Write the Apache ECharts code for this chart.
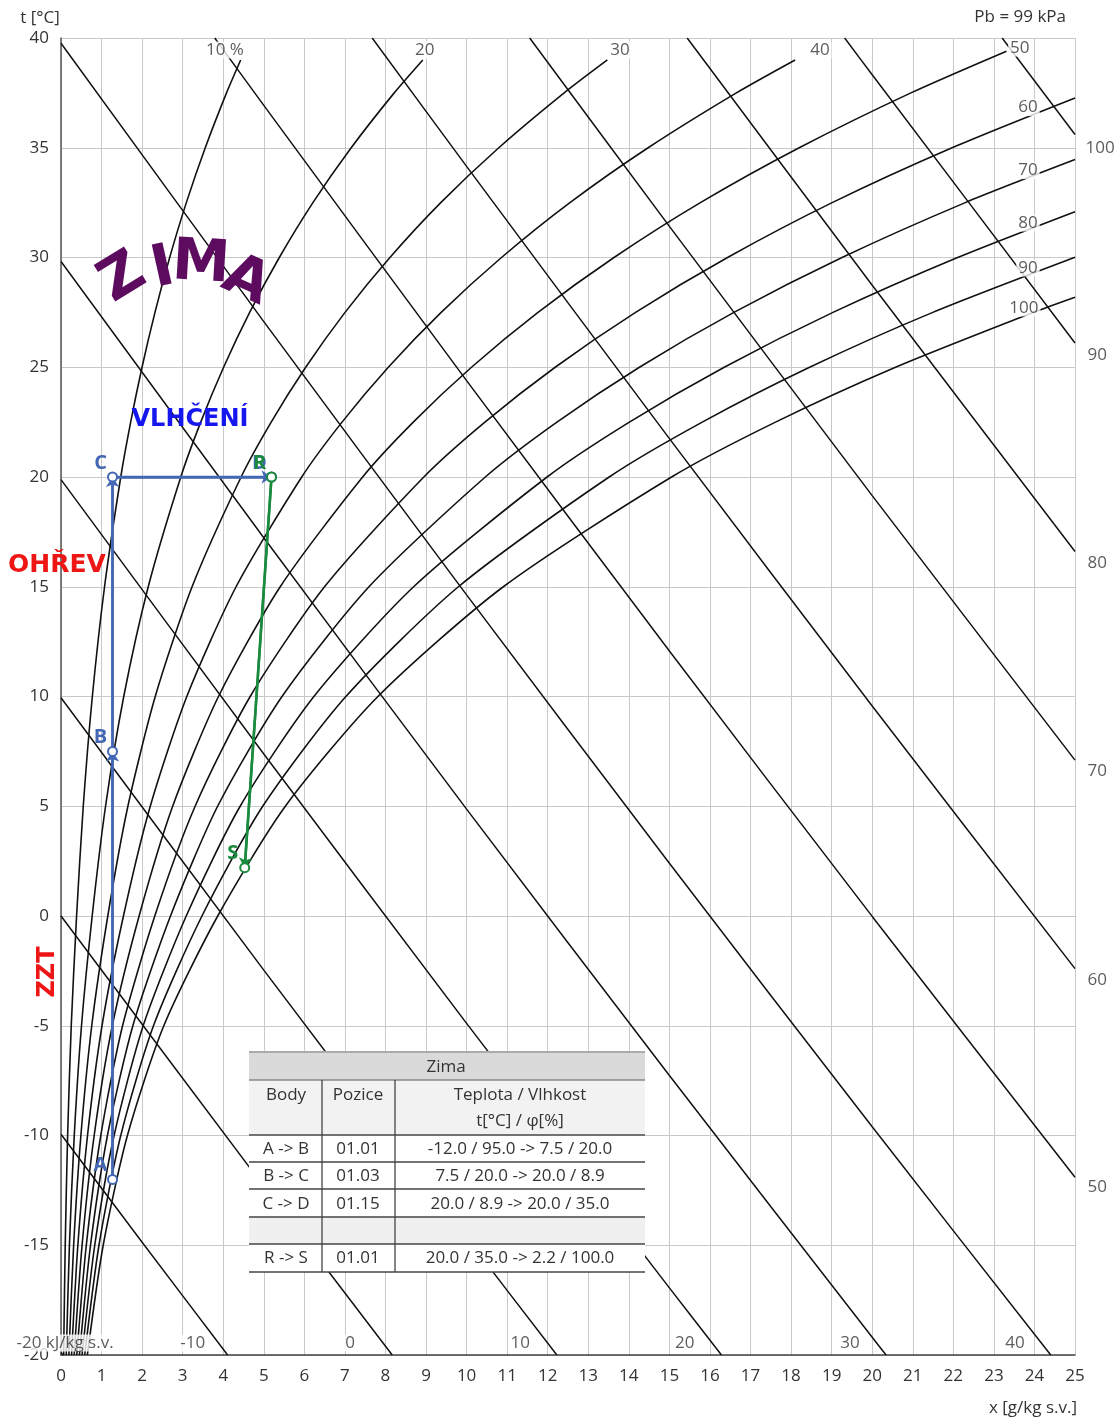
<!DOCTYPE html>
<html>
<head>
<meta charset="utf-8">
<title>h-x diagram - Zima</title>
<script src="https://cdn.jsdelivr.net/npm/echarts@6/dist/echarts.min.js"></script>
<style>
  html, body { margin: 0; padding: 0; background: #fff; }
  #chart { width: 1119px; height: 1420px; }
</style>
</head>
<body>
<div id="chart"></div>
<script>
// relative humidity curves, points [x g/kg, t °C]
const rh10 = [[0.0649,-20],[0.1039,-15],[0.1633,-10],[0.2525,-5],[0.3842,0],[0.5487,5],[0.7726,10],[1.0736,15],[1.4732,20],[1.7178,22.5],[1.9980,25],[2.3171,27.5],[2.6798,30],[3.0901,32.5],[3.5568,35],[4.0809,37.5],[4.43,39]]
const rh20 = [[0.1298,-20],[0.2078,-15],[0.3268,-10],[0.5053,-5],[0.7689,0],[1.0984,5],[1.5472,10],[2.1508,15],[2.9535,20],[3.4451,22.5],[4.0089,25],[4.6515,27.5],[5.3828,30],[6.2110,32.5],[7.1546,35],[8.2157,37.5],[8.92,39]]
const rh30 = [[0.1947,-20],[0.3117,-15],[0.4903,-10],[0.7582,-5],[1.1541,0],[1.6490,5],[2.3236,10],[3.2319,15],[4.4407,20],[5.1821,22.5],[6.0327,25],[7.0034,27.5],[8.1093,30],[9.3633,32.5],[10.7939,35],[12.4055,37.5],[13.47,39]]
const rh40 = [[0.2596,-20],[0.4157,-15],[0.6538,-10],[1.0114,-5],[1.5397,0],[2.2007,5],[3.1020,10],[4.3166,15],[5.9351,20],[6.9287,22.5],[8.0697,25],[9.3731,27.5],[10.8596,30],[12.5474,32.5],[14.4757,35],[16.6513,37.5],[18.10,39]]
const rh50 = [[0.3246,-20],[0.5197,-15],[0.8176,-10],[1.2647,-5],[1.9259,0],[2.7532,5],[3.8824,10],[5.4052,15],[7.4366,20],[8.6850,22.5],[10.1200,25],[11.7607,27.5],[13.6340,30],[15.7638,32.5],[18.2006,35],[20.9547,37.5],[23.31,39.4]]
const rh60 = [[0.3895,-20],[0.6238,-15],[0.9813,-10],[1.5183,-5],[2.3124,0],[3.3068,5],[4.6647,10],[6.4975,15],[8.9453,20],[10.4512,22.5],[12.1837,25],[14.1665,27.5],[16.4329,30],[19.0127,32.5],[21.9691,35],[25,37.27]]
const rh70 = [[0.4545,-20],[0.7278,-15],[1.1451,-10],[1.7721,-5],[2.6995,0],[3.8614,5],[5.4489,10],[7.5937,15],[10.4613,20],[12.2274,22.5],[14.2609,25],[16.5904,27.5],[19.2565,30],[22.2953,32.5],[25,34.46]]
const rh80 = [[0.5194,-20],[0.8319,-15],[1.3091,-10],[2.0260,-5],[3.0871,0],[4.4169,5],[6.2352,10],[8.6937,15],[11.9844,20],[14.0133,22.5],[16.3516,25],[19.0331,27.5],[22.1052,30],[25,32.09]]
const rh90 = [[0.5844,-20],[0.9361,-15],[1.4732,-10],[2.2803,-5],[3.4752,0],[4.9735,5],[7.0233,10],[9.7975,15],[13.5150,20],[15.8097,22.5],[18.4563,25],[21.4944,27.5],[25,30.01]]
const rh100 = [[0.6494,-20],[1.0403,-15],[1.6373,-10],[2.5346,-5],[3.8636,0],[5.5310,5],[7.8135,10],[10.9052,15],[15.0532,20],[17.6159,22.5],[20.5748,25],[23.9747,27.5],[25,28.19]]

// enthalpy lines h = const [kJ/kg s.v.]
const hm20 = [[0,-19.88],[0.049,-20]]
const hm10 = [[0,-9.94],[2,-14.86],[4.108,-20]]
const h0 = [[0,0],[5,-12.317],[8.166,-20]]
const h10 = [[0,9.94],[5,-2.467],[10,-14.65],[12.225,-20]]
const h20 = [[0,19.88],[5,7.382],[10,-4.89],[15,-16.941],[16.284,-20]]
const h30 = [[0,29.82],[5,17.231],[10,4.87],[15,-7.269],[20,-19.191],[20.343,-20]]
const h40 = [[0,39.76],[5,27.081],[10,14.63],[15,2.404],[20,-9.605],[24.402,-20]]
const h50 = [[3.79,40],[5,36.93],[10,24.39],[15,12.076],[20,-0.019],[25,-11.9]]
const h60 = [[7.672,40],[10,34.15],[15,21.748],[20,9.567],[25,-2.399]]
const h70 = [[11.555,40],[15,31.42],[20,19.153],[25,7.102]]
const h80 = [[15.438,40],[20,28.739],[25,16.603]]
const h90 = [[19.321,40],[20,38.325],[25,26.105]]
const h100 = [[23.204,40],[25,35.606]]

// curve labels [x, t, text]
const rhLabels = [[4.04,39.45,'10 %'],[8.97,39.45,'20'],[13.78,39.45,'30'],[18.71,39.45,'40'],[23.64,39.54,'50'],
  [23.84,36.83,'60'],[23.84,33.96,'70'],[23.84,31.57,'80'],[23.84,29.52,'90'],[23.74,27.70,'100']]
const hLabels = [[0.10,-19.45,'-20 kJ/kg s.v.'],[3.25,-19.45,'-10'],[7.13,-19.45,'0'],[11.32,-19.45,'10'],
  [15.38,-19.45,'20'],[19.45,-19.45,'30'],[23.52,-19.45,'40'],
  [25.62,34.99,'100'],[25.55,25.56,'90'],[25.55,16.08,'80'],[25.55,6.61,'70'],[25.55,-2.92,'60'],[25.55,-12.35,'50']]

// process points
const bluePts = [['A',1.27,-12],['B',1.27,7.5],['C',1.27,20],['D',5.19,20]]
const greenPts = [['R',5.19,20],['S',4.53,2.2]]

// table
const tableTitle = 'Zima'
const tableHead = ['Body','Pozice','Teplota / Vlhkost']
const tableHeadSub = 't[°C] / φ[%]'
const tableBody = ['A -> B','B -> C','C -> D','','R -> S']
const tablePos = ['01.01','01.03','01.15','','01.01']
const tableVal = ['-12.0 / 95.0 -> 7.5 / 20.0','7.5 / 20.0 -> 20.0 / 8.9','20.0 / 8.9 -> 20.0 / 35.0','','20.0 / 35.0 -> 2.2 / 100.0']

const FONT = '"Open Sans", "Noto Sans", sans-serif'
const BOLD = '"DejaVu Sans", "Noto Sans", sans-serif'
const BLUE = '#4467b4'
const GREEN = '#1a8a3e'

let chart = echarts.init(document.getElementById('chart'))

function curve(data, w) {
  return {
    type: 'line', data, smooth: 0.25, symbol: 'none', silent: true,
    lineStyle: {color: '#111', width: w}, z: 3
  }
}

function labelSeries(data, z) {
  return {
    type: 'scatter', data, symbol: 'circle', symbolSize: 1, silent: true, clip: false, z,
    itemStyle: {color: 'rgba(0,0,0,0)'},
    label: {
      show: true, position: 'inside', formatter: p => p.value[2],
      fontFamily: FONT, fontSize: 17, color: '#333', backgroundColor: '#fff', padding: [0, 2]
    }
  }
}

function process(pts, color, z) {
  let segs = []
  for (let i = 0; i < pts.length - 1; i++) {
    segs.push([{coord: [pts[i][1], pts[i][2]]}, {coord: [pts[i + 1][1], pts[i + 1][2]]}])
  }
  return {
    type: 'line', z, silent: true,
    data: pts.map(p => ({name: p[0], value: [p[1], p[2]]})),
    symbol: 'emptyCircle', symbolSize: 9,
    itemStyle: {color, borderWidth: 2},
    lineStyle: {color, width: 2.5},
    label: {
      show: true, position: 'inside', offset: [-12, -14], formatter: '{b}',
      color, fontFamily: FONT, fontWeight: 'bold', fontSize: 20
    },
    markLine: {
      silent: true, symbol: ['none', 'arrow'], symbolSize: 10,
      label: {show: false},
      lineStyle: {color, width: 2.5, type: 'solid'},
      data: segs
    }
  }
}

// table graphic
const colX = [249, 322, 395, 645]
const rowY = [1052, 1080, 1135, 1162, 1189, 1217, 1244, 1272]
let table = []
const fills = ['#dadada', '#f2f2f2', '#fff', '#fff', '#fff', '#f0f0f0', '#fff']
fills.forEach((f, i) => table.push({
  type: 'rect', shape: {x: colX[0], y: rowY[i], width: colX[3] - colX[0], height: rowY[i + 1] - rowY[i]},
  style: {fill: f}, z: 50
}))
rowY.forEach((y, i) => table.push({
  type: 'line', shape: {x1: colX[0], y1: y, x2: colX[3], y2: y},
  style: {stroke: i === 0 ? '#aaa' : (i === 1 ? '#888' : '#444'), lineWidth: i === 0 ? 2 : 1.3}, z: 52
}))
;[1, 2].forEach(c => table.push({
  type: 'line', shape: {x1: colX[c], y1: rowY[1], x2: colX[c], y2: rowY[7]},
  style: {stroke: '#444', lineWidth: 1.3}, z: 52
}))
function cell(text, x, y) {
  return {type: 'text', x, y, z: 53,
    style: {text, fill: '#333', font: '17px ' + FONT, align: 'center', verticalAlign: 'middle'}}
}
const colC = [286, 358, 520]
table.push(cell(tableTitle, 446, 1067))
tableHead.forEach((t, i) => table.push(cell(t, colC[i], 1095)))
table.push(cell(tableHeadSub, colC[2], 1121))
const rowC = [1149, 1176, 1204, 1231, 1258]
tableBody.forEach((t, i) => {
  table.push(cell(t, colC[0], rowC[i]))
  table.push(cell(tablePos[i], colC[1], rowC[i]))
  table.push(cell(tableVal[i], colC[2], rowC[i]))
})

function bigText(text, x, y, fill, size, rotation) {
  return {type: 'text', x, y, rotation: rotation || 0, z: 60,
    style: {text, fill, font: 'bold ' + size + 'px ' + BOLD, align: 'center', verticalAlign: 'middle'}}
}

const zimaColor = '#5c0b5e'
let texts = [
  bigText('Z', 123, 279, zimaColor, 58, 0.55),
  bigText('I', 163, 270, zimaColor, 58, 0.22),
  bigText('M', 201, 265, zimaColor, 58, -0.06),
  bigText('A', 246, 282, zimaColor, 58, -0.42),
  bigText('VLHČENÍ', 190, 420, '#1616ee', 24),
  bigText('OHŘEV', 57, 565, '#ee1515', 25),
  bigText('ZZT', 48, 972, '#ee1515', 24, Math.PI / 2),
  {type: 'text', x: 40, y: 18, style: {text: 't [°C]', fill: '#333', font: '17px ' + FONT, align: 'center', verticalAlign: 'middle'}},
  {type: 'text', x: 1066, y: 17, style: {text: 'Pb = 99 kPa', fill: '#333', font: '17px ' + FONT, align: 'right', verticalAlign: 'middle'}},
  {type: 'text', x: 1033, y: 1408, style: {text: 'x [g/kg s.v.]', fill: '#333', font: '17px ' + FONT, align: 'center', verticalAlign: 'middle'}}
]

chart.setOption({
  animation: false,
  grid: {left: 61, right: 44, top: 38, bottom: 65},
  xAxis: {
    type: 'value', min: 0, max: 25, interval: 1,
    axisLine: {onZero: false, lineStyle: {color: '#444', width: 1.5}},
    axisTick: {show: false},
    axisLabel: {fontFamily: FONT, fontSize: 17, color: '#333', margin: 13},
    splitLine: {lineStyle: {color: '#c8c8c8', width: 1}}
  },
  yAxis: {
    type: 'value', min: -20, max: 40, interval: 5,
    axisLine: {show: true, onZero: false, lineStyle: {color: '#555', width: 1.5}},
    axisTick: {show: false},
    axisLabel: {fontFamily: FONT, fontSize: 17, color: '#333', margin: 12},
    splitLine: {lineStyle: {color: '#c8c8c8', width: 1}}
  },
  series: [
    ...[rh10, rh20, rh30, rh40, rh50, rh60, rh70, rh80, rh90, rh100].map(d => curve(d, 1.6)),
    ...[hm20, hm10, h0, h10, h20, h30, h40, h50, h60, h70, h80, h90, h100].map(d => curve(d, 1.5)),
    labelSeries(rhLabels, 6),
    labelSeries(hLabels, 6),
    process(bluePts, BLUE, 10),
    process(greenPts, GREEN, 11)
  ],
  graphic: [...table, ...texts]
})
</script>
</body>
</html>
